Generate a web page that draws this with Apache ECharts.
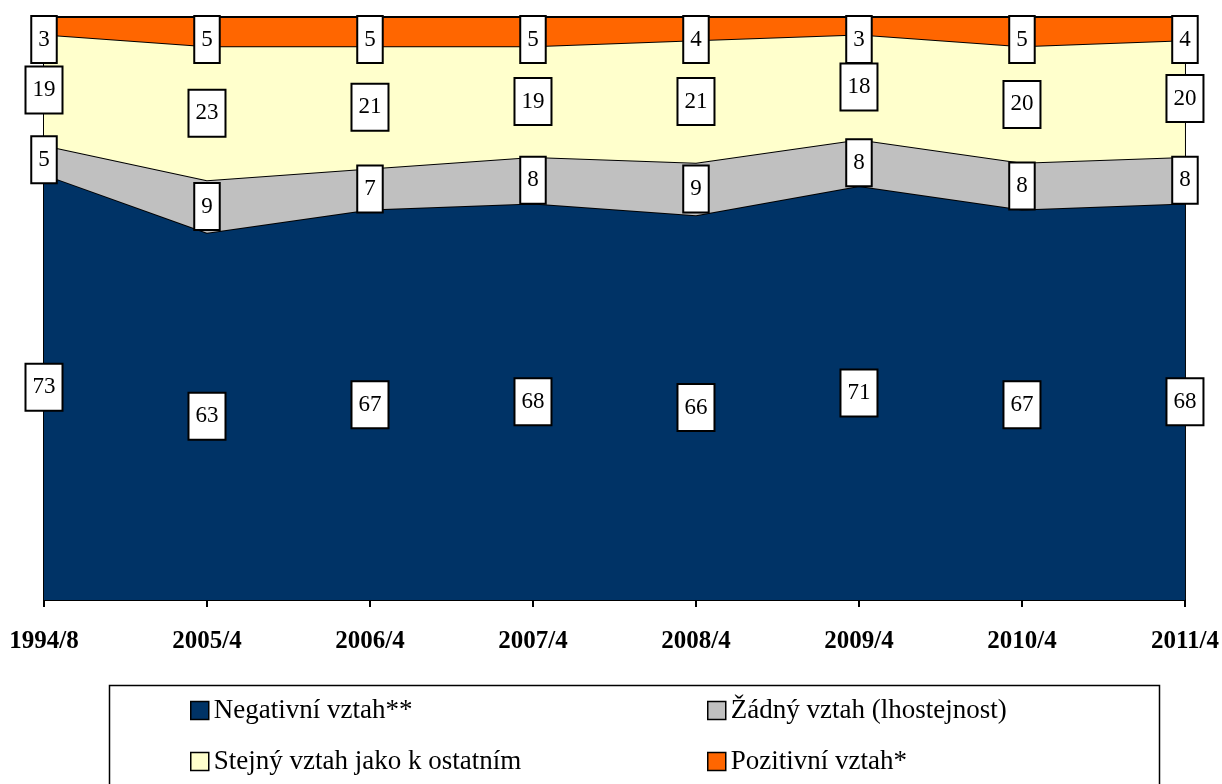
<!DOCTYPE html>
<html>
<head>
<meta charset="utf-8">
<script src="https://cdn.jsdelivr.net/npm/echarts@6/dist/echarts.min.js"></script>
<style>
  html, body { margin: 0; padding: 0; background: #fff; }
  #chart { width: 1222px; height: 784px; }
</style>
</head>
<body>
<div id="chart"></div>
<script>
// survey waves
const categories = ["1994/8", "2005/4", "2006/4", "2007/4", "2008/4", "2009/4", "2010/4", "2011/4"];

// percentages, bottom to top
const negative = [73, 63, 67, 68, 66, 71, 67, 68];
const indifferent = [5, 9, 7, 8, 9, 8, 8, 8];
const same = [19, 23, 21, 19, 21, 18, 20, 20];
const positive = [3, 5, 5, 5, 4, 3, 5, 4];

const names = ["Negativní vztah**", "Žádný vztah (lhostejnost)", "Stejný vztah jako k ostatním", "Pozitivní vztah*"];
const colors = ["#003366", "#C0C0C0", "#FFFFCC", "#FF6600"];
const layers = [negative, indifferent, same, positive];

const serif = '"Liberation Serif", "Times New Roman", serif';

var chart = echarts.init(document.getElementById("chart"));

var areaSeries = layers.map(function (vals, k) {
  return {
    name: names[k],
    type: "line",
    stack: "total",
    data: vals,
    showSymbol: false,
    symbol: "none",
    lineStyle: { color: "#000", width: 2 },
    areaStyle: { color: colors[k], opacity: 1 },
    itemStyle: { color: colors[k], borderColor: "#000", borderWidth: 1.5 },
    z: 2 + k
  };
});

// value labels sit in the middle of each band (top band hangs from the top edge)
var labelBox = {
  show: true,
  color: "#000",
  opacity: 1,
  fontFamily: serif,
  fontSize: 23,
  backgroundColor: "#fff",
  borderColor: "#000",
  borderWidth: 2,
  padding: [11, 6],
  formatter: function (p) { return p.data[2]; }
};

var labelSeries = layers.map(function (vals, k) {
  var isTop = k === layers.length - 1;
  var pts = vals.map(function (v, i) {
    var base = 0;
    for (var j = 0; j < k; j++) base += layers[j][i];
    return [i, isTop ? base + v : base + v / 2, v];
  });
  return {
    type: "scatter",
    data: pts,
    symbolSize: 0,
    silent: true,
    z: 10,
    itemStyle: { opacity: 1 },
    emphasis: { disabled: true },
    label: Object.assign({}, labelBox, {
      position: isTop ? "bottom" : "inside",
      distance: 0
    })
  };
});

var legendText = { fontFamily: serif, fontSize: 27, color: "#000" };

chart.setOption({
  animation: false,
  grid: {
    left: 44,
    right: 37,
    top: 17,
    bottom: 184,
    show: true,
    borderColor: "#000",
    borderWidth: 2,
    backgroundColor: "transparent"
  },
  xAxis: {
    type: "category",
    data: categories,
    boundaryGap: false,
    axisLine: { lineStyle: { color: "#000", width: 2 } },
    axisTick: { show: true, length: 7, lineStyle: { color: "#000", width: 2 } },
    axisLabel: {
      color: "#000",
      fontFamily: serif,
      fontWeight: "bold",
      fontSize: 25,
      margin: 29,
      interval: 0
    },
    splitLine: { show: false }
  },
  yAxis: {
    type: "value",
    min: 0,
    max: 100,
    show: false
  },
  legend: [
    {
      data: [names[0], names[2]],
      orient: "vertical",
      left: 185,
      top: 692,
      icon: "rect",
      itemWidth: 18,
      itemHeight: 18,
      itemGap: 24,
      textStyle: legendText,
      itemStyle: { borderColor: "#000", borderWidth: 1.5 }
    },
    {
      data: [names[1], names[3]],
      orient: "vertical",
      left: 702,
      top: 692,
      icon: "rect",
      itemWidth: 18,
      itemHeight: 18,
      itemGap: 24,
      textStyle: legendText,
      itemStyle: { borderColor: "#000", borderWidth: 1.5 }
    }
  ],
  graphic: [
    {
      type: "rect",
      left: 107,
      top: 683,
      shape: { width: 1050, height: 120 },
      style: { fill: "none", stroke: "#000", lineWidth: 1.5 },
      silent: true
    }
  ],
  series: areaSeries.concat(labelSeries)
});
</script>
</body>
</html>
